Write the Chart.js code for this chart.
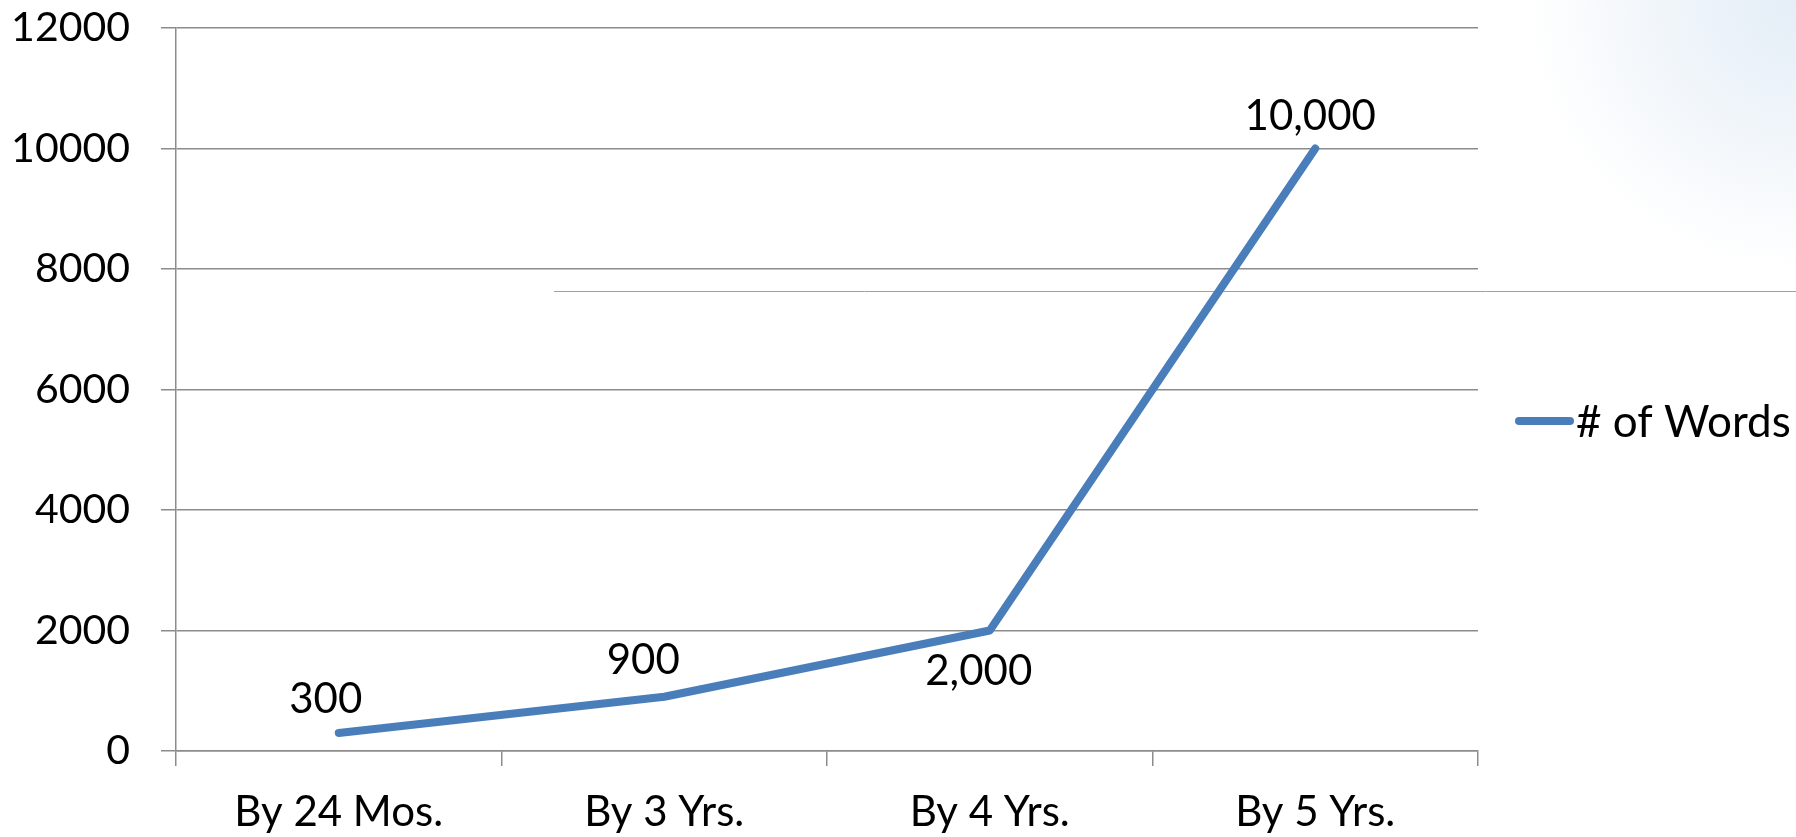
<!DOCTYPE html>
<html>
<head>
<meta charset="utf-8">
<script src="https://cdn.jsdelivr.net/npm/chart.js@4.4.1/dist/chart.umd.min.js"></script>
<style>
  html, body { margin: 0; padding: 0; }
  body {
    width: 1796px; height: 837px; overflow: hidden;
    background: radial-gradient(circle at 100% 0%, #e4eef7 0px, #f0f5fa 130px, #ffffff 270px);
  }
  #wrap { position: relative; width: 1796px; height: 837px; }
</style>
</head>
<body>
<div id="wrap"><canvas id="chart"></canvas></div>
<script>
// data
const categories = ['By 24 Mos.', 'By 3 Yrs.', 'By 4 Yrs.', 'By 5 Yrs.'];
const words = [300, 900, 2000, 10000];
const yTicks = [0, 2000, 4000, 6000, 8000, 10000, 12000];
const seriesName = '# of Words';

// label placement relative to each point (dx, dy in px)
const labelShift = [[-13, -33], [-21, -36], [-11, 41], [-5, -32]];

const lineColor = '#4a7ebb';
const gridColor = '#8c8c8c';
const fontFamily = 'Lato, "Open Sans", sans-serif';

const dataLabels = {
  id: 'dataLabels',
  afterDatasetsDraw(chart) {
    const ctx = chart.ctx;
    const meta = chart.getDatasetMeta(0);
    ctx.save();
    ctx.font = '42px ' + fontFamily;
    ctx.fillStyle = '#000';
    ctx.textAlign = 'center';
    ctx.textBaseline = 'middle';
    meta.data.forEach((pt, i) => {
      const txt = words[i].toLocaleString('en-US');
      ctx.fillText(txt, pt.x + labelShift[i][0], pt.y + labelShift[i][1]);
    });
    ctx.restore();
  }
};

// legend drawn to the right of the plot, like the original
const sideLegend = {
  id: 'sideLegend',
  afterDraw(chart) {
    const ctx = chart.ctx;
    const y = 421;
    ctx.save();
    ctx.strokeStyle = lineColor;
    ctx.lineWidth = 8;
    ctx.lineCap = 'round';
    ctx.beginPath();
    ctx.moveTo(1519, y);
    ctx.lineTo(1570, y);
    ctx.stroke();
    ctx.font = '44px ' + fontFamily;
    ctx.fillStyle = '#000';
    ctx.textBaseline = 'middle';
    ctx.fillText(seriesName, 1576, y + 2);
    ctx.restore();
  }
};

// thin slide rule line behind the series
const slideRule = {
  id: 'slideRule',
  beforeDatasetsDraw(chart) {
    const ctx = chart.ctx;
    ctx.save();
    ctx.strokeStyle = '#a0a0a0';
    ctx.lineWidth = 1;
    ctx.beginPath();
    ctx.moveTo(554, 291.5);
    ctx.lineTo(1796, 291.5);
    ctx.stroke();
    ctx.restore();
  }
};

function draw() {
  new Chart(document.getElementById('chart'), {
    type: 'line',
    data: {
      labels: categories,
      datasets: [{
        label: seriesName,
        data: words,
        borderColor: lineColor,
        backgroundColor: lineColor,
        borderWidth: 8,
        borderCapStyle: 'round',
        borderJoinStyle: 'round',
        pointRadius: 0,
        tension: 0,
        fill: false
      }]
    },
    options: {
      responsive: true,
      maintainAspectRatio: false,
      animation: false,
      layout: { padding: { top: 28, right: 318, bottom: 0, left: 0 } },
      plugins: {
        legend: { display: false },
        tooltip: { enabled: false }
      },
      scales: {
        x: {
          offset: true,
          grid: {
            offset: true,
            drawOnChartArea: false,
            drawTicks: true,
            tickLength: 15,
            color: gridColor,
            lineWidth: 1.5
          },
          border: { color: gridColor, width: 1.5 },
          ticks: {
            color: '#000',
            font: { family: fontFamily, size: 42 },
            padding: 21,
            maxRotation: 0,
            autoSkip: false
          },
          afterFit(scale) { scale.height = 86; }
        },
        y: {
          min: 0,
          max: 12000,
          afterBuildTicks(scale) { scale.ticks = yTicks.map(v => ({ value: v })); },
          grid: {
            color: gridColor,
            lineWidth: 1.5,
            tickLength: 15
          },
          border: { color: gridColor, width: 1.5 },
          ticks: {
            color: '#000',
            font: { family: fontFamily, size: 41 },
            padding: 31,
            callback: v => String(v)
          },
          afterFit(scale) {
            scale.width = 176;
            scale.paddingTop = 0;
            scale.paddingBottom = 0;
          }
        }
      }
    },
    plugins: [slideRule, dataLabels, sideLegend]
  });
}

document.fonts.load('42px Lato').then(draw, draw);
</script>
</body>
</html>
